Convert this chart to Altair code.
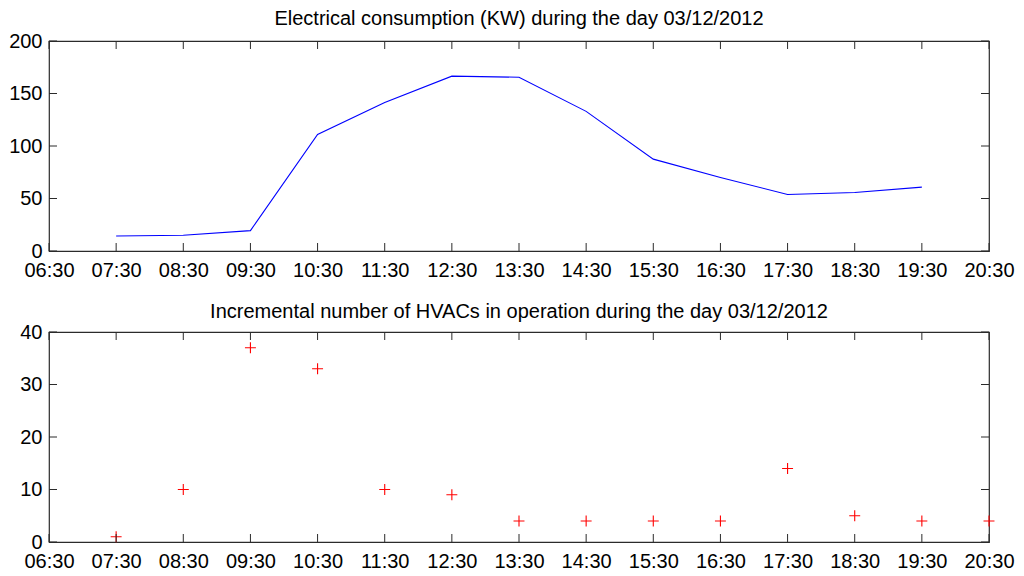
import altair as alt
import pandas as pd

# ---- data ----
times = ["07:30", "08:30", "09:30", "10:30", "11:30", "12:30", "13:30",
         "14:30", "15:30", "16:30", "17:30", "18:30", "19:30"]
consumption_kw = [14.3, 15, 19.4, 111, 141.5, 166.5, 165.5, 133, 87.5, 70, 53.8, 55.7, 60.8]

hvac_times = ["07:30", "08:30", "09:30", "10:30", "11:30", "12:30", "13:30",
              "14:30", "15:30", "16:30", "17:30", "18:30", "19:30", "20:30"]
hvac_count = [1, 10, 37, 33, 10, 9, 4, 4, 4, 4, 14, 5, 4, 4]

x_tick_labels = ["06:30", "07:30", "08:30", "09:30", "10:30", "11:30", "12:30",
                 "13:30", "14:30", "15:30", "16:30", "17:30", "18:30", "19:30", "20:30"]
top_y_ticks = [0, 50, 100, 150, 200]
bottom_y_ticks = [0, 10, 20, 30, 40]

title_top = "Electrical consumption (KW) during the day 03/12/2012"
title_bottom = "Incremental number of HVACs in operation during the day 03/12/2012"


def to_hours(t):
    h, m = t.split(":")
    return int(h) + int(m) / 60.0


x_ticks = [to_hours(t) for t in x_tick_labels]
x_domain = [x_ticks[0], x_ticks[-1]]

df_top = pd.DataFrame({"h": [to_hours(t) for t in times], "v": consumption_kw})
df_bot = pd.DataFrame({"h": [to_hours(t) for t in hvac_times], "v": hvac_count})

W, H = 940, 210
FONT = "Liberation Sans"
FS = 20
FRAME = "#2b2b2b"
TICK = 8
label_expr = "(datum.value < 10 ? '0' : '') + floor(datum.value) + ':30'"


def panel(df, mark, y_ticks, title, title_offset):
    xs = alt.Scale(domain=x_domain, nice=False, zero=False)
    ys = alt.Scale(domain=[y_ticks[0], y_ticks[-1]], nice=False, zero=False)
    x_axis = alt.Axis(values=x_ticks, labelExpr=label_expr, title=None, grid=False,
                      domain=False, ticks=False, labelPadding=9, labelFontSize=FS,
                      labelFont=FONT, labelColor="black", labelFlush=False)
    y_axis = alt.Axis(values=y_ticks, title=None, grid=False, domain=False, ticks=False,
                      labelPadding=7, labelFontSize=FS, labelFont=FONT, labelColor="black",
                      labelFlush=False)
    main = mark.encode(x=alt.X("h:Q", scale=xs, axis=x_axis),
                       y=alt.Y("v:Q", scale=ys, axis=y_axis))

    xt = pd.DataFrame({"h": x_ticks})
    yt = pd.DataFrame({"v": y_ticks})
    tick_style = dict(color=FRAME, strokeWidth=1)
    xb = alt.Chart(xt).mark_rule(**tick_style).encode(
        x=alt.X("h:Q", scale=xs, axis=x_axis), y=alt.value(H), y2=alt.value(H - TICK))
    xtp = alt.Chart(xt).mark_rule(**tick_style).encode(
        x=alt.X("h:Q", scale=xs, axis=x_axis), y=alt.value(0), y2=alt.value(TICK))
    yl = alt.Chart(yt).mark_rule(**tick_style).encode(
        y=alt.Y("v:Q", scale=ys, axis=y_axis), x=alt.value(0), x2=alt.value(TICK))
    yr = alt.Chart(yt).mark_rule(**tick_style).encode(
        y=alt.Y("v:Q", scale=ys, axis=y_axis), x=alt.value(W), x2=alt.value(W - TICK))

    return alt.layer(main, xb, xtp, yl, yr).properties(
        width=W, height=H,
        title=alt.TitleParams(title, fontSize=FS, fontWeight="normal", font=FONT,
                              color="black", anchor="middle", offset=title_offset),
    )


top_mark = alt.Chart(df_top).mark_line(color="#0000ff", strokeWidth=1.1)
bot_mark = alt.Chart(df_bot).mark_point(shape="M-1,0L1,0M0,-1L0,1", size=120,
                                        filled=False, color="#ff0000", strokeWidth=1.1,
                                        opacity=1, clip=False)

chart = alt.vconcat(
    panel(df_top, top_mark, top_y_ticks, title_top, 2),
    panel(df_bot, bot_mark, bottom_y_ticks, title_bottom, 0),
    spacing=20,
).properties(padding={"left": 0, "top": 0, "right": 0, "bottom": 0}).configure(
    background="white",
    view=alt.ViewConfig(stroke=FRAME, strokeWidth=1.2),
)

chart.save("out.html", embed_options={"renderer": "svg", "actions": False})
